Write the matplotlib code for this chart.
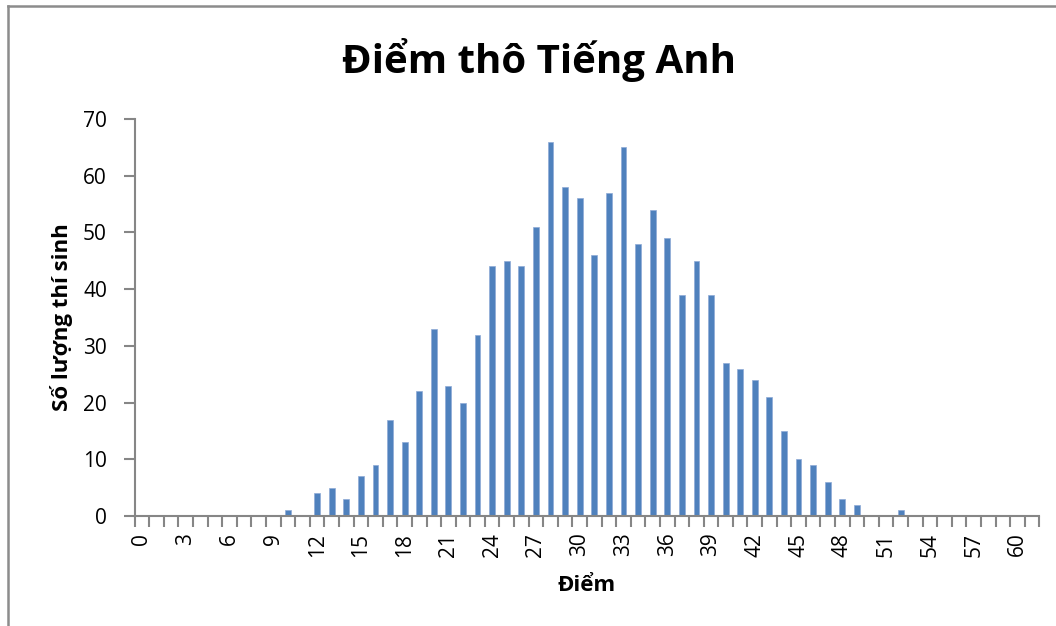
import matplotlib.pyplot as plt
from matplotlib.lines import Line2D
import numpy as np

plt.rcParams['font.family'] = ['Open Sans', 'DejaVu Sans']

# score (0..61) -> number of candidates
scores = list(range(62))
counts = [0] * 62
nonzero = {
    10: 1, 12: 4, 13: 5, 14: 3, 15: 7, 16: 9, 17: 17, 18: 13, 19: 22,
    20: 33, 21: 23, 22: 20, 23: 32, 24: 44, 25: 45, 26: 44, 27: 51,
    28: 66, 29: 58, 30: 56, 31: 46, 32: 57, 33: 65, 34: 48, 35: 54,
    36: 49, 37: 39, 38: 45, 39: 39, 40: 27, 41: 26, 42: 24, 43: 21,
    44: 15, 45: 10, 46: 9, 47: 6, 48: 3, 49: 2, 52: 1,
}
for k, v in nonzero.items():
    counts[k] = v
label_pos = list(range(0, 61, 3))
label_txt = [str(i) for i in label_pos]

W, H = 1056, 626
fig = plt.figure(figsize=(W / 100, H / 100), dpi=100)
ax = fig.add_axes([134.7 / W, 1 - 516 / H, (1039.3 - 134.7) / W, (516 - 119) / H])

ax.bar(scores, counts, width=0.4, color='#4F81BD', edgecolor='#8EAAD6', linewidth=0.5)

ax.set_xlim(-0.5, 61.5)
ax.set_ylim(0, 70)
ax.set_yticks(range(0, 71, 10))

gray = '#868686'
for s in ['top', 'right']:
    ax.spines[s].set_visible(False)
for s in ['left', 'bottom']:
    ax.spines[s].set_color(gray)
    ax.spines[s].set_linewidth(1.5)

# tick marks between categories, labels under every third category
ax.set_xticks(np.arange(-0.5, 62, 1))
ax.set_xticklabels([])
ax.set_xticks(label_pos, minor=True)
ax.set_xticklabels(label_txt, minor=True, rotation=90, fontsize=15)
ax.tick_params(axis='x', which='major', length=8, width=1.5, color=gray, direction='out')
ax.tick_params(axis='x', which='minor', length=0, pad=12)
ax.tick_params(axis='y', length=8, width=1.5, color=gray, labelsize=15, pad=12)

fig.text(539 / W, 1 - 60 / H, 'Điểm thô Tiếng Anh', fontsize=29, fontweight='bold',
         ha='center', va='center')
ax.set_ylabel('Số lượng thí sinh', fontsize=16, fontweight='bold', labelpad=7)
ax.set_xlabel('Điểm', fontsize=16, fontweight='bold', labelpad=13)

# chart frame (cropped on right and bottom)
fig.add_artist(Line2D([8 / W, 8 / W], [0, 1 - 6 / H], color='#8C8C8C', linewidth=1.8))
fig.add_artist(Line2D([8 / W, 1], [1 - 6 / H, 1 - 6 / H], color='#8C8C8C', linewidth=1.8))

fig.savefig('out.png', dpi=100)
